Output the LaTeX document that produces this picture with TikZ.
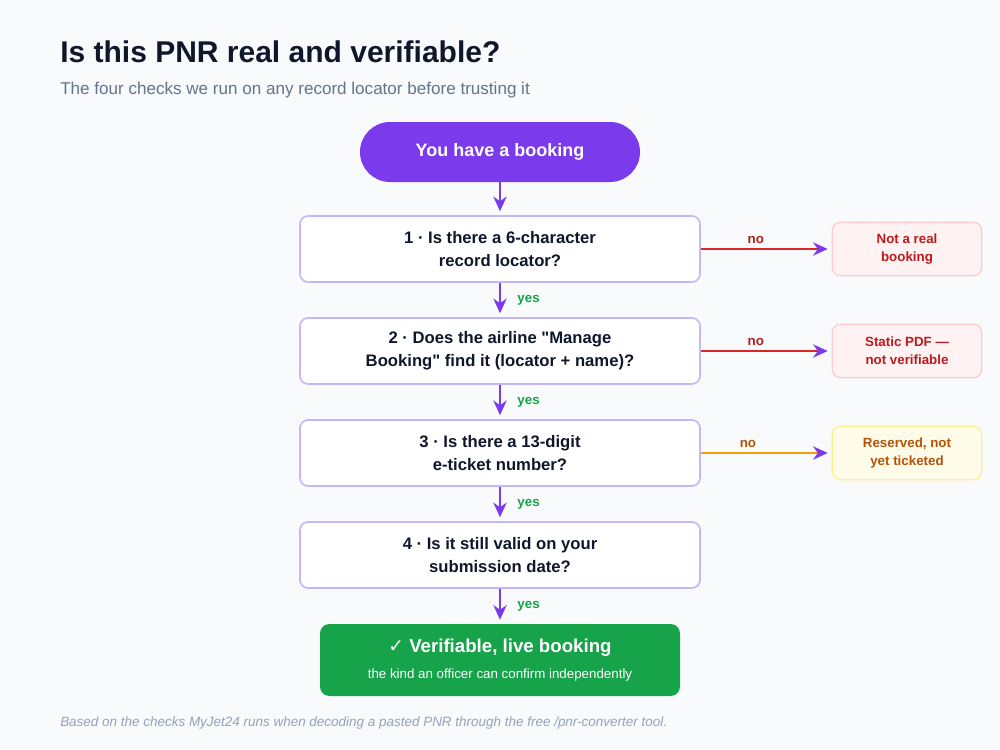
\documentclass[tikz,border=0pt]{standalone}
\usepackage{fontspec}
\setmainfont{Liberation Sans}[Ligatures=TeXOff]
\newfontfamily\symfont{DejaVu Sans}
\usetikzlibrary{arrows.meta}
\definecolor{ink}{HTML}{0F172A}
\definecolor{muted}{HTML}{64748B}
\definecolor{faint}{HTML}{94A3B8}
\definecolor{page}{HTML}{F8FAFC}
\definecolor{flow}{HTML}{7C3AED}
\definecolor{edge}{HTML}{C4B5FD}
\definecolor{okay}{HTML}{16A34A}
\definecolor{stop}{HTML}{DC2626}
\definecolor{stoptext}{HTML}{B91C1C}
\definecolor{stopfill}{HTML}{FEF2F2}
\definecolor{stopline}{HTML}{FECACA}
\definecolor{wait}{HTML}{F59E0B}
\definecolor{waittext}{HTML}{B45309}
\definecolor{waitfill}{HTML}{FEFCE8}
\definecolor{waitline}{HTML}{FEF08A}
\tikzset{
  % node options
  check/.style={draw=edge,line width=1.2pt,fill=white,rounded corners=6pt,
    minimum width=300pt,minimum height=49.5pt,align=center,text=ink,
    font=\fontsize{12.5pt}{17pt}\selectfont\bfseries},
  outcome/.style={draw=stopline,fill=stopfill,rounded corners=6pt,line width=0.9pt,
    minimum width=112pt,minimum height=40pt,align=center,text=stoptext,
    font=\fontsize{10pt}{13.5pt}\selectfont\bfseries},
  pending/.style={outcome,draw=waitline,fill=waitfill,text=waittext},
  % path options
  advance/.style={draw=flow,line width=1.5pt,shorten >=3pt,-{Stealth[length=11pt,width=10pt]}},
  reject/.style={draw=stop,line width=1.5pt,shorten >=3pt,-{Stealth[length=11pt,width=10pt,color=flow]}},
  yes/.style={text=okay,font=\fontsize{10pt}{12pt}\selectfont\bfseries,anchor=west},
  no/.style={text=stoptext,font=\fontsize{10pt}{12pt}\selectfont\bfseries},
}
\begin{document}
\begin{tikzpicture}[x=0.75pt,y=-0.75pt]
  \fill[page] (0,0) rectangle (1000,750);
  \useasboundingbox (0,0) rectangle (1000,750);
  \node[anchor=base west,inner sep=0,text=ink,font=\fontsize{22.5pt}{26pt}\selectfont\bfseries] (title) at (60,62) {Is this PNR real and verifiable?};
  \node[anchor=base west,inner sep=0,text=muted,font=\fontsize{12.8pt}{15pt}\selectfont] (sub) at (60,94) {The four checks we run on any record locator before trusting it};
  \node[fill=flow,rounded corners=22.5pt,minimum width=210pt,minimum height=45pt,text=white,
    font=\fontsize{13.5pt}{16pt}\selectfont\bfseries] (start) at (500,152) {You have a booking};
  \node[check] (c1) at (500,249) {1 · Is there a 6-character\\record locator?};
  \node[check] (c2) at (500,351) {2 · Does the airline "Manage\\Booking" find it (locator + name)?};
  \node[check] (c3) at (500,453) {3 · Is there a 13-digit\\e-ticket number?};
  \node[check] (c4) at (500,555) {4 · Is it still valid on your\\submission date?};
  \node[fill=okay,rounded corners=7pt,minimum width=270pt,minimum height=54pt,text=white,align=center] (done) at (500,660)
    {{\fontsize{14pt}{17pt}\selectfont\bfseries{\symfont ✓} Verifiable, live booking}\\[7pt]{\fontsize{10pt}{12pt}\selectfont the kind an officer can confirm independently}};
  \node[outcome] (r1) at (907,249) {Not a real\\booking};
  \node[outcome] (r2) at (907,351) {Static PDF —\\not verifiable};
  \node[pending] (r3) at (907,453) {Reserved, not\\yet ticketed};
  \draw[advance] (start) -- (c1);
  \draw[advance] (c1) -- node[yes,pos=0.5,xshift=9pt] {yes} (c2);
  \draw[advance] (c2) -- node[yes,pos=0.5,xshift=9pt] {yes} (c3);
  \draw[advance] (c3) -- node[yes,pos=0.5,xshift=9pt] {yes} (c4);
  \draw[advance] (c4) -- node[yes,pos=0.5,xshift=9pt] {yes} (done);
  \draw[reject] (c1) -- node[no,above,pos=0.42] {no} (r1);
  \draw[reject] (c2) -- node[no,above,pos=0.42] {no} (r2);
  \draw[reject,draw=wait] (c3) -- node[no,above,pos=0.36,text=waittext] {no} (r3);
  \node[anchor=base west,inner sep=0,text=faint,font=\fontsize{10.1pt}{12pt}\selectfont\itshape] (foot) at (60,726)
    {Based on the checks MyJet24 runs when decoding a pasted PNR through the free /pnr-converter tool.};
\end{tikzpicture}
\end{document}
